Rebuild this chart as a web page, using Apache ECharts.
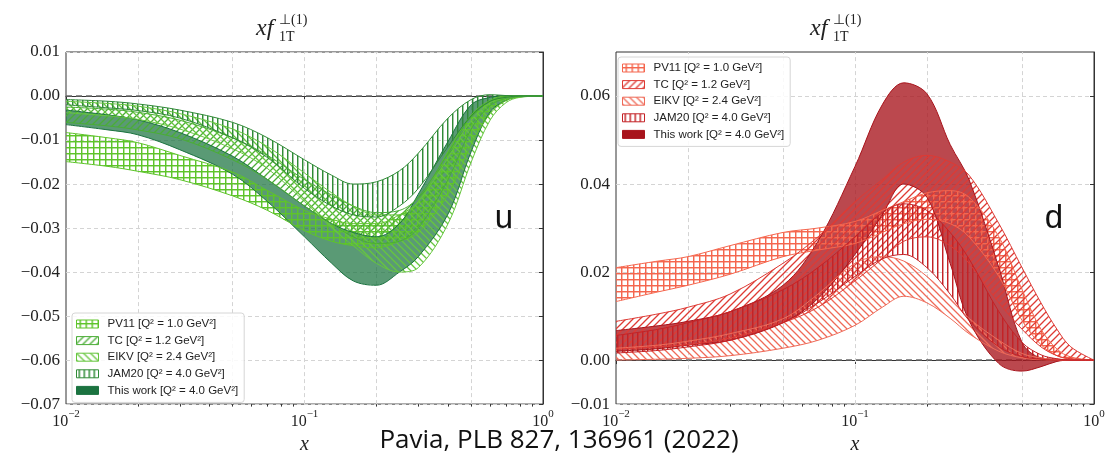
<!DOCTYPE html>
<html>
<head>
<meta charset="utf-8">
<script src="https://cdn.jsdelivr.net/npm/echarts@6/dist/echarts.min.js"></script>
<style>
html, body { margin: 0; padding: 0; background: #fff; }
#chart { width: 1117px; height: 460px; }
</style>
</head>
<body>
<div id="chart"></div>
<script>
// sample points along x (log axis)
var xs = [0.01, 0.015, 0.02, 0.03, 0.05, 0.07, 0.1, 0.13, 0.16, 0.2, 0.25, 0.3, 0.4, 0.5, 0.6, 0.7, 0.8, 1.0];

// u quark, lower / upper edges of each band
var uPV11Lo = [-0.0149, -0.016, -0.0171, -0.019, -0.0227, -0.026, -0.0306, -0.033, -0.034, -0.0345, -0.033, -0.031, -0.0223, -0.011, -0.004, -0.001, -0.0002, 0];
var uPV11Hi = [-0.0083, -0.0095, -0.0106, -0.0135, -0.0173, -0.0215, -0.026, -0.028, -0.029, -0.029, -0.027, -0.024, -0.0126, -0.0043, -0.001, 0, 0, 0];
var uTCLo = [-0.006, -0.0068, -0.0077, -0.0097, -0.0145, -0.019, -0.025, -0.029, -0.032, -0.0335, -0.033, -0.03, -0.019, -0.0075, -0.0022, -0.0005, -0.0001, 0];
var uTCHi = [-0.0025, -0.003, -0.0037, -0.0055, -0.0095, -0.0135, -0.019, -0.0225, -0.025, -0.0265, -0.026, -0.023, -0.013, -0.0045, -0.0012, -0.0002, 0, 0];
var uEIKVLo = [-0.0038, -0.0045, -0.0053, -0.0075, -0.012, -0.0165, -0.024, -0.03, -0.034, -0.038, -0.04, -0.039, -0.029, -0.015, -0.0055, -0.0015, -0.0003, 0];
var uEIKVHi = [-0.0012, -0.0017, -0.0023, -0.004, -0.0075, -0.0115, -0.0175, -0.022, -0.025, -0.027, -0.027, -0.024, -0.014, -0.0055, -0.0015, -0.0003, 0, 0];
var uJAMLo = [-0.002, -0.0027, -0.0033, -0.005, -0.0095, -0.014, -0.021, -0.025, -0.027, -0.0275, -0.025, -0.021, -0.0115, -0.0045, -0.0012, -0.0003, 0, 0];
var uJAMHi = [-0.0008, -0.0012, -0.0018, -0.0032, -0.006, -0.0095, -0.0145, -0.018, -0.02, -0.0195, -0.017, -0.013, -0.005, -0.0008, 0.0003, 0.0001, 0, 0];
var uThisLo = [-0.0065, -0.0077, -0.0088, -0.0122, -0.0178, -0.024, -0.032, -0.038, -0.042, -0.043, -0.04, -0.0365, -0.0268, -0.0126, -0.0036, -0.001, -0.0002, 0];
var uThisHi = [-0.0032, -0.0043, -0.0054, -0.0083, -0.0137, -0.019, -0.025, -0.029, -0.031, -0.032, -0.029, -0.0223, -0.0103, -0.002, -0.0003, 0, 0, 0];

// d quark
var dPV11Lo = [0.0133, 0.0155, 0.017, 0.0195, 0.0235, 0.025, 0.0265, 0.029, 0.031, 0.032, 0.031, 0.028, 0.019, 0.009, 0.0035, 0.001, 0.0002, 0];
var dPV11Hi = [0.021, 0.0225, 0.0235, 0.026, 0.029, 0.03, 0.0315, 0.034, 0.036, 0.038, 0.0385, 0.037, 0.028, 0.016, 0.007, 0.0025, 0.0007, 0];
var dTCLo = [0.0025, 0.003, 0.0035, 0.005, 0.0085, 0.012, 0.018, 0.023, 0.027, 0.028, 0.026, 0.022, 0.013, 0.007, 0.003, 0.001, 0.0003, 0];
var dTCHi = [0.0088, 0.0105, 0.012, 0.015, 0.022, 0.028, 0.036, 0.041, 0.045, 0.0465, 0.045, 0.042, 0.031, 0.021, 0.013, 0.007, 0.003, 0];
var dEIKVLo = [0, 0.0002, 0.0004, 0.001, 0.0027, 0.0045, 0.0079, 0.012, 0.0145, 0.013, 0.0095, 0.006, 0.002, 0.0005, 0.0001, 0, 0, 0];
var dEIKVHi = [0.0027, 0.0034, 0.0043, 0.006, 0.0094, 0.015, 0.022, 0.0235, 0.0225, 0.019, 0.014, 0.0095, 0.0045, 0.0015, 0.0005, 0.0001, 0, 0];
var dJAMLo = [0.0016, 0.0022, 0.003, 0.0045, 0.0085, 0.013, 0.019, 0.023, 0.024, 0.021, 0.015, 0.009, 0.003, 0.0008, 0.0002, 0, 0, 0];
var dJAMHi = [0.0056, 0.007, 0.0085, 0.011, 0.016, 0.021, 0.028, 0.0335, 0.0355, 0.034, 0.029, 0.023, 0.011, 0.004, 0.0012, 0.0003, 0, 0];
var dThisLo = [0.002, 0.0026, 0.0034, 0.0045, 0.0085, 0.014, 0.024, 0.033, 0.04, 0.037, 0.022, 0.009, -0.0008, -0.0025, -0.0015, -0.0003, 0, 0];
var dThisHi = [0.0067, 0.0078, 0.0088, 0.011, 0.017, 0.027, 0.044, 0.058, 0.063, 0.0605, 0.049, 0.041, 0.021, 0.004, 0.0005, 0.0002, 0, 0];

var names = ['PV11 [Q² = 1.0 GeV²]', 'TC [Q² = 1.2 GeV²]', 'EIKV [Q² = 2.4 GeV²]', 'JAM20 [Q² = 4.0 GeV²]', 'This work [Q² = 4.0 GeV²]'];
var gridX = [0.02, 0.05, 0.1, 0.2, 0.5];
var minorX = [0.02, 0.03, 0.04, 0.05, 0.06, 0.07, 0.08, 0.09, 0.2, 0.3, 0.4, 0.5, 0.6, 0.7, 0.8, 0.9];
var dTicks = [-0.01, 0, 0.02, 0.04, 0.06];

var uCol = { pv: '#5ec42a', tc: '#4aad36', ei: '#66c63e', jam: '#2f8a36', me: '#1b7340' };
var dCol = { pv: '#f5664e', tc: '#de3a34', ei: '#ef6a58', jam: '#c42226', me: '#a8141c' };

// matplotlib-like hatch tiles; straight lines get a soft second pixel so they keep their colour
function hatch(kind, color, size) {
  var c = document.createElement('canvas');
  c.width = size; c.height = size;
  var g = c.getContext('2d');
  g.fillStyle = color;
  g.strokeStyle = color;
  g.lineWidth = 1.3;
  var m = Math.floor(size / 2);
  if (kind === '+' || kind === '|') {
    g.fillRect(m, 0, 1, size);
    g.globalAlpha = 0.45; g.fillRect(m + 1, 0, 1, size); g.globalAlpha = 1;
  }
  if (kind === '+') {
    g.fillRect(0, m, size, 1);
    g.globalAlpha = 0.45; g.fillRect(0, m + 1, size, 1); g.globalAlpha = 1;
  }
  if (kind === '/' || kind === '\\') {
    g.beginPath();
    if (kind === '/') {
      g.moveTo(-1, size + 1); g.lineTo(size + 1, -1);
      g.moveTo(-1, 1); g.lineTo(1, -1);
      g.moveTo(size - 1, size + 1); g.lineTo(size + 1, size - 1);
    } else {
      g.moveTo(-1, -1); g.lineTo(size + 1, size + 1);
      g.moveTo(size - 1, -1); g.lineTo(size + 1, 1);
      g.moveTo(-1, size - 1); g.lineTo(1, size + 1);
    }
    g.stroke();
  }
  return { image: c, repeat: 'repeat' };
}

function fills(col) {
  return [hatch('+', col.pv, 6), hatch('/', col.tc, 7), hatch('\\', col.ei, 7), hatch('|', col.jam, 5), col.me];
}
var uFill = fills(uCol), dFill = fills(dCol);
var uIcon = fills(uCol), dIcon = fills(dCol);

// rows are [y, x] so the stack runs on y (first float dimension), by index
function band(label, key, panel, lo, hi, color, fill, op) {
  var base = {
    type: 'line', xAxisIndex: panel * 2, yAxisIndex: panel, stack: key, stackStrategy: 'all',
    encode: { x: 1, y: 0 },
    symbol: 'none', smooth: 0.35, silent: true, color: color,
    lineStyle: { color: color, width: 1 }
  };
  var a = Object.assign({}, base, { name: key + '_lo', data: xs.map(function (x, i) { return [lo[i], x]; }) });
  var b = Object.assign({}, base, {
    name: label,
    data: xs.map(function (x, i) { return [+(hi[i] - lo[i]).toFixed(5), x]; }),
    areaStyle: { color: fill, opacity: op }
  });
  return [a, b];
}

function guides(panel) {
  return {
    type: 'line', xAxisIndex: panel * 2, yAxisIndex: panel, data: [], silent: true,
    markLine: {
      z: 1, silent: true, symbol: 'none', label: { show: false },
      lineStyle: { color: '#d4d4d4', type: [4, 3], width: 1 },
      data: gridX.map(function (v) { return { xAxis: v }; })
    }
  };
}
function zeroLine(panel) {
  return {
    type: 'line', xAxisIndex: panel * 2, yAxisIndex: panel, data: [], silent: true,
    markLine: {
      z: 3, silent: true, symbol: 'none', label: { show: false },
      lineStyle: { color: '#6a6a6a', type: [6, 4], width: 1.5 },
      data: [{ yAxis: 0 }]
    }
  };
}

var series = [guides(0), guides(1)]
  .concat(band(names[4], 'u-me', 0, uThisLo, uThisHi, uCol.me, uFill[4], 0.72))
  .concat(band(names[0], 'u-pv', 0, uPV11Lo, uPV11Hi, uCol.pv, uFill[0], 1))
  .concat(band(names[1], 'u-tc', 0, uTCLo, uTCHi, uCol.tc, uFill[1], 1))
  .concat(band(names[2], 'u-ei', 0, uEIKVLo, uEIKVHi, uCol.ei, uFill[2], 1))
  .concat(band(names[3], 'u-jam', 0, uJAMLo, uJAMHi, uCol.jam, uFill[3], 1))
  .concat(band(names[4], 'd-me', 1, dThisLo, dThisHi, dCol.me, dFill[4], 0.78))
  .concat(band(names[0], 'd-pv', 1, dPV11Lo, dPV11Hi, dCol.pv, dFill[0], 1))
  .concat(band(names[1], 'd-tc', 1, dTCLo, dTCHi, dCol.tc, dFill[1], 1))
  .concat(band(names[2], 'd-ei', 1, dEIKVLo, dEIKVHi, dCol.ei, dFill[2], 1))
  .concat(band(names[3], 'd-jam', 1, dJAMLo, dJAMHi, dCol.jam, dFill[3], 1))
  .concat([zeroLine(0), zeroLine(1)]);

var serif = 'Liberation Serif';
function yLabel(v) {
  var s = Math.abs(v) < 1e-9 ? '0.00' : v.toFixed(2);
  return s.replace('-', '\u2212');
}
function xLabel(v) {
  var e = Math.round(Math.log10(v));
  return '{b|10}{s|' + String(e).replace('-', '\u2212') + '}';
}

function xMajor(g) {
  return {
    type: 'log', logBase: 10, gridIndex: g, min: 0.01, max: 1, position: 'bottom',
    name: 'x', nameLocation: 'middle', nameGap: 19,
    nameTextStyle: { fontFamily: serif, fontStyle: 'italic', fontSize: 20, color: '#222' },
    axisLine: { show: true, lineStyle: { color: '#333', width: 1 } },
    axisTick: { show: true, length: 4, lineStyle: { color: '#333' } },
    splitLine: { show: false },
    axisLabel: {
      margin: 5, formatter: xLabel,
      rich: {
        b: { fontFamily: serif, fontSize: 16, color: '#222', lineHeight: 21, verticalAlign: 'bottom' },
        s: { fontFamily: serif, fontSize: 11, color: '#222', lineHeight: 21, verticalAlign: 'top' }
      }
    }
  };
}
// minor ticks: linear axis over log10(x), same span as the log axis
function xMinor(g) {
  return {
    type: 'value', gridIndex: g, min: -2, max: 0, position: 'bottom',
    axisLine: { show: false }, axisLabel: { show: false }, splitLine: { show: false },
    axisTick: { show: true, length: 2.5, customValues: minorX.map(Math.log10), lineStyle: { color: '#333' } }
  };
}

function legendOf(left, top, col, icon) {
  return {
    left: left, top: top, orient: 'vertical', selectedMode: false,
    icon: 'rect', itemWidth: 22, itemHeight: 8, itemGap: 4.6,
    backgroundColor: 'rgba(255,255,255,0.85)', borderColor: '#d6d6d6', borderWidth: 1, borderRadius: 3,
    padding: [5, 6, 6, 4],
    textStyle: { fontFamily: 'Liberation Sans', fontSize: 11.5, color: '#222', lineHeight: 12, padding: [0, 0, 0, 4] },
    data: names.map(function (n, i) {
      var c = [col.pv, col.tc, col.ei, col.jam, col.me][i];
      return { name: n, itemStyle: { color: icon[i], borderColor: c, borderWidth: 1 } };
    })
  };
}

function titleParts(dx) {
  return [
    { type: 'text', x: 256 + dx, y: 29, style: { text: 'xf', fontFamily: serif, fontStyle: 'italic', fontSize: 24, fill: '#222', verticalAlign: 'middle' } },
    { type: 'text', x: 279 + dx, y: 20, style: { text: '\u22a5(1)', fontFamily: serif, fontSize: 14, fill: '#222', verticalAlign: 'middle' } },
    { type: 'text', x: 279 + dx, y: 37, style: { text: '1T', fontFamily: serif, fontSize: 14, fill: '#222', verticalAlign: 'middle' } }
  ];
}

var option = {
  animation: false,
  backgroundColor: '#fff',
  grid: [
    { left: 66, right: 574, top: 52, bottom: 53, show: true, borderColor: '#333', borderWidth: 1 },
    { left: 616, right: 23, top: 52, bottom: 53, show: true, borderColor: '#333', borderWidth: 1 }
  ],
  xAxis: [xMajor(0), xMinor(0), xMajor(1), xMinor(1)],
  yAxis: [
    {
      type: 'value', gridIndex: 0, min: -0.07, max: 0.01, interval: 0.01,
      axisLine: { show: true, lineStyle: { color: '#333' } },
      axisTick: { show: true, length: 4, lineStyle: { color: '#333' } },
      splitLine: { show: true, lineStyle: { color: '#d4d4d4', type: [4, 3] } },
      axisLabel: { formatter: yLabel, fontFamily: serif, fontSize: 17, color: '#222', margin: 6 }
    },
    {
      type: 'value', gridIndex: 1, min: -0.01, max: 0.07,
      axisLine: { show: true, lineStyle: { color: '#333' } },
      axisTick: { show: true, length: 4, customValues: dTicks, lineStyle: { color: '#333' } },
      splitLine: { show: true, lineStyle: { color: '#d4d4d4', type: [4, 3] } },
      axisLabel: { formatter: yLabel, customValues: dTicks, fontFamily: serif, fontSize: 17, color: '#222', margin: 6 }
    }
  ],
  legend: [legendOf(72, 313, uCol, uIcon), legendOf(618, 57, dCol, dIcon)],
  graphic: titleParts(0).concat(titleParts(554)).concat([
    { type: 'text', x: 504, y: 219, style: { text: 'u', fontFamily: 'Liberation Sans', fontSize: 33, fill: '#111', align: 'center', verticalAlign: 'middle' } },
    { type: 'text', x: 1054, y: 219, style: { text: 'd', fontFamily: 'Liberation Sans', fontSize: 33, fill: '#111', align: 'center', verticalAlign: 'middle' } },
    { type: 'text', x: 559, y: 441, style: { text: 'Pavia, PLB 827, 136961 (2022)', fontFamily: 'Open Sans', fontSize: 26, fill: '#111', align: 'center', verticalAlign: 'middle' } }
  ]),
  series: series
};

var chart = echarts.init(document.getElementById('chart'));
chart.setOption(option);
</script>
</body>
</html>
